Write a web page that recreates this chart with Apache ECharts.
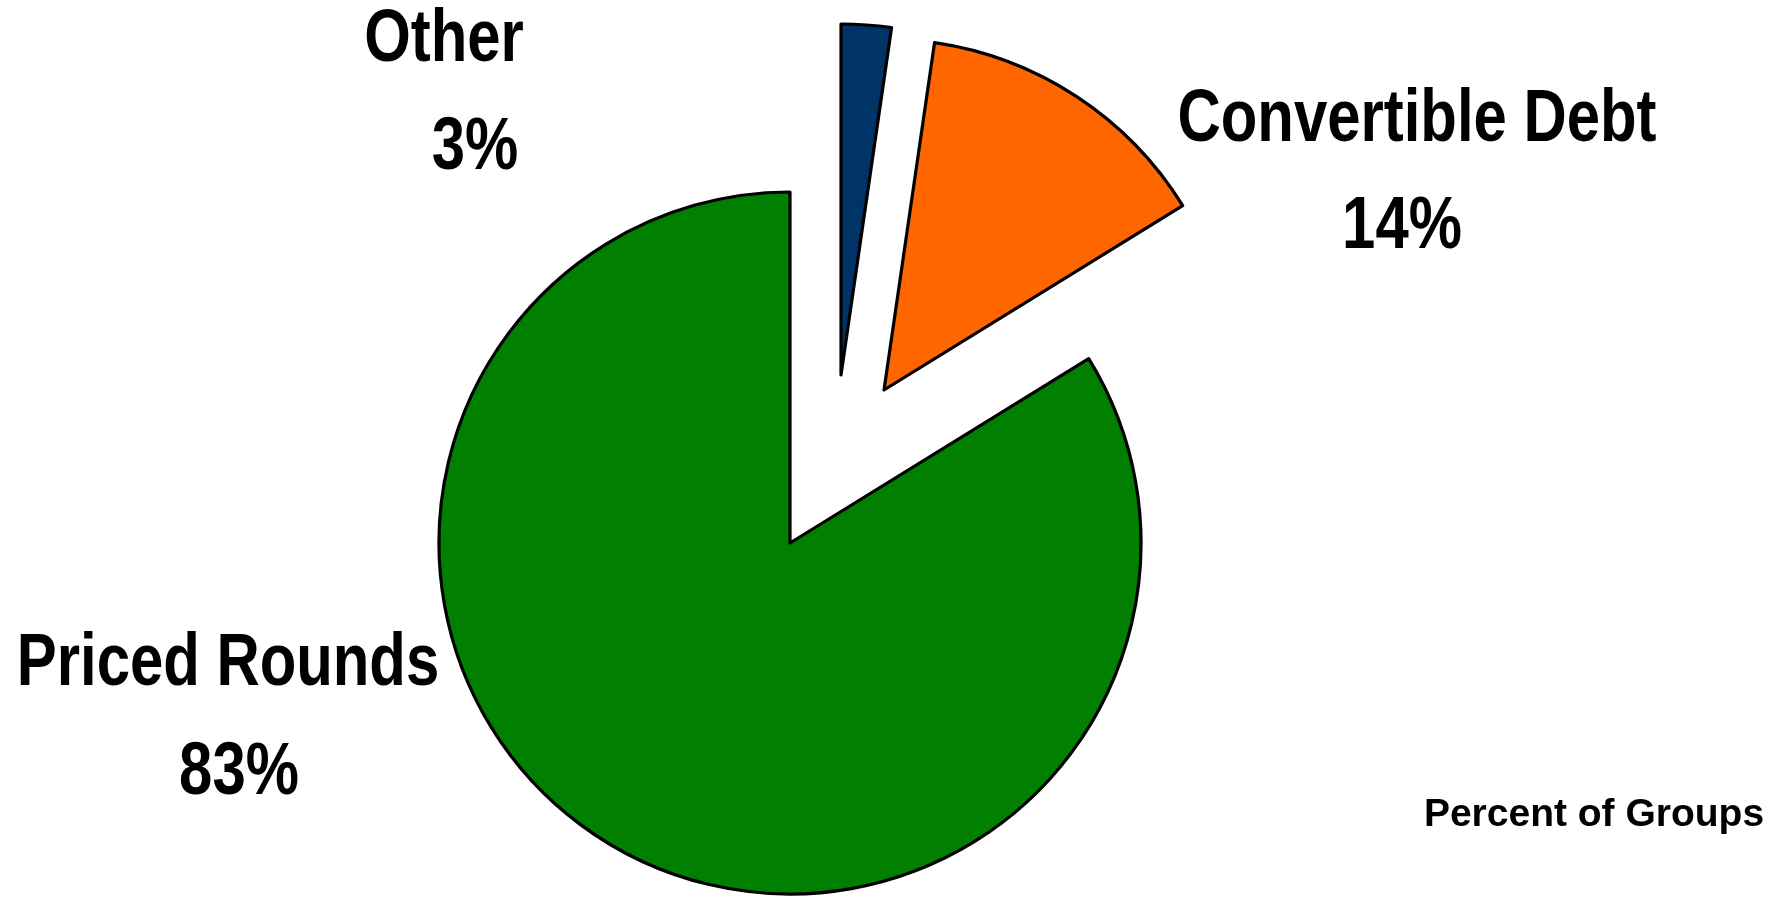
<!DOCTYPE html>
<html>
<head>
<meta charset="utf-8">
<script src="https://cdn.jsdelivr.net/npm/echarts@6/dist/echarts.min.js"></script>
<style>
html,body{margin:0;padding:0;background:#fff;}
#chart{width:1779px;height:898px;}
</style>
</head>
<body>
<div id="chart"></div>
<script>
// ---- data (clockwise from 12 o'clock) ----
const categories = ['Other', 'Convertible Debt', 'Priced Rounds'];
const values = [2.3, 13.9, 83.8];
const pctLabels = ['3%', '14%', '83%'];
const caption = 'Percent of Groups';

// ---- styling / layout ----
const colors = ['#003366', '#FF6600', '#007F00'];
const centers = [[841, 375], [884, 390], [790, 543]];   // exploded slice centres
// [name x, name y, pct x, pct y] (text centres)
const labelPos = [[444, 40, 475, 148], [1417, 120, 1402, 227], [228, 664, 239, 773]];
const radius = 351;
const labelFont = "'Liberation Sans',Arial,sans-serif";

const chart = echarts.init(document.getElementById('chart'), null, {renderer: 'canvas'});

const series = categories.map((_, k) => ({
  type: 'pie',
  center: centers[k],
  radius: radius,
  startAngle: 90,
  clockwise: true,
  avoidLabelOverlap: false,
  silent: true,
  animation: false,
  label: {show: false},
  labelLine: {show: false},
  emphasis: {disabled: true},
  data: categories.map((name, i) => ({
    name: name,
    value: values[i],
    itemStyle: i === k
      ? {color: colors[i], borderColor: '#000', borderWidth: 3.2, borderJoin: 'round'}
      : {color: 'rgba(0,0,0,0)', borderWidth: 0}
  }))
}));

function labelText(text, x, y) {
  return {
    type: 'text',
    x: x, y: y,
    scaleX: 0.82,
    scaleY: 1.02,
    silent: true,
    style: {
      text: text,
      fontFamily: labelFont,
      fontWeight: 'bold',
      fontSize: 73,
      fill: '#000',
      textAlign: 'center',
      textVerticalAlign: 'middle'
    }
  };
}

const graphics = [];
categories.forEach((name, i) => {
  const p = labelPos[i];
  graphics.push(labelText(name, p[0], p[1]));
  graphics.push(labelText(pctLabels[i], p[2], p[3]));
});
graphics.push({
  type: 'text',
  x: 1594,
  y: 815,
  silent: true,
  style: {
    text: caption,
    fontFamily: labelFont,
    fontWeight: 'bold',
    fontSize: 39,
    fill: '#000',
    textAlign: 'center',
    textVerticalAlign: 'middle'
  }
});

chart.setOption({
  backgroundColor: '#ffffff',
  animation: false,
  series: series,
  graphic: graphics
});
</script>
</body>
</html>
